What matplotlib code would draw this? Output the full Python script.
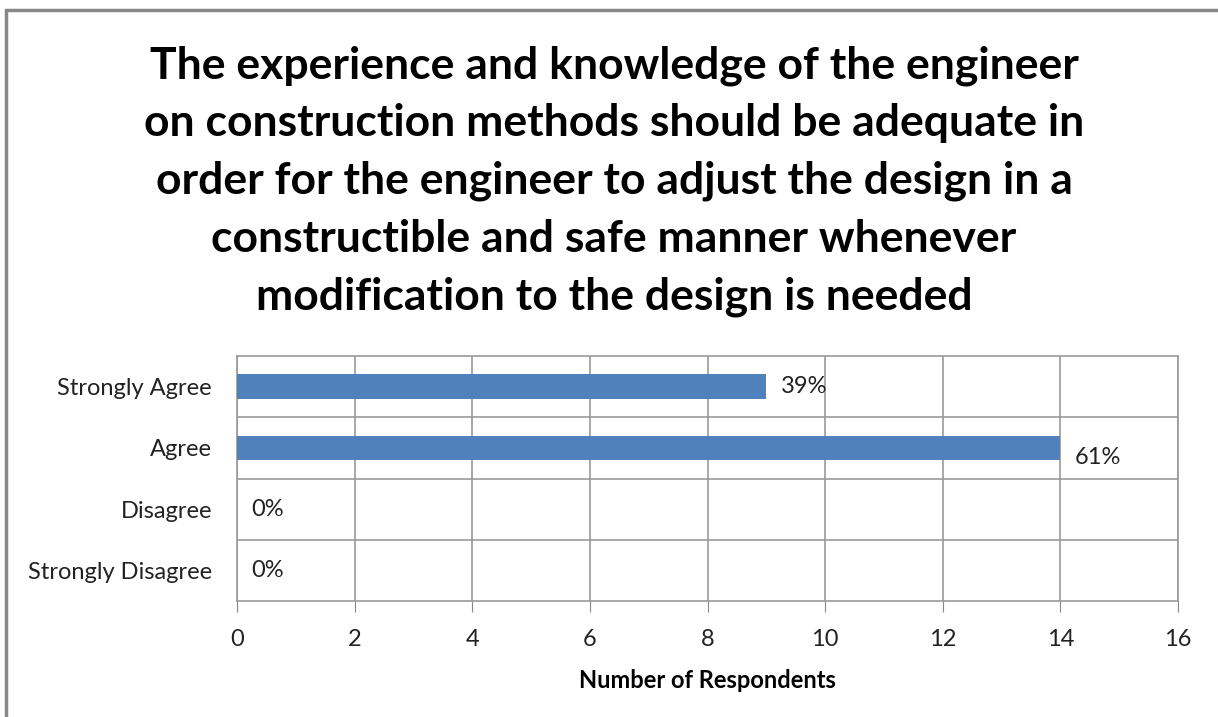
import matplotlib
matplotlib.use("Agg")
import matplotlib.pyplot as plt
from matplotlib.patches import Rectangle

categories = ["Strongly Agree", "Agree", "Disagree", "Strongly Disagree"]
values = [9, 14, 0, 0]
labels = ["39%", "61%", "0%", "0%"]
xticks = [0, 2, 4, 6, 8, 10, 12, 14, 16]
title = ("The experience and knowledge of the engineer\n"
         "on construction methods should be adequate in\n"
         "order for the engineer to adjust the design in a\n"
         "constructible and safe manner whenever\n"
         "modification to the design is needed")

plt.rcParams['font.family'] = ['Lato', 'DejaVu Sans']

W, H = 1218, 717
fig = plt.figure(figsize=(W / 100, H / 100), dpi=100)
# plot area in pixels: left 237, right 1178, top 356, bottom 601
ax = fig.add_axes([237 / W, 1 - 601 / H, (1178 - 237) / W, (601 - 356) / H])

ypos = list(range(len(categories)))
ax.barh(ypos, values, height=0.4, color="#4F81BD", zorder=3)
ax.set_ylim(len(categories) - 0.5, -0.5)
ax.set_xlim(0, 16)
ax.set_xticks(xticks)
ax.set_xticklabels([str(t) for t in xticks], fontsize=17, color="#222222")
ax.set_yticks(ypos)
ax.set_yticklabels(categories, fontsize=17, color="#222222")
ax.tick_params(axis='y', length=0, pad=18)
ax.tick_params(axis='x', length=8, color="#888888", pad=12, direction='out')

# gridlines
for t in xticks:
    ax.axvline(t, color="#999999", lw=1.2, zorder=1)
for b in [0.5, 1.5, 2.5]:
    ax.axhline(b, color="#999999", lw=1.2, zorder=1)
for s in ax.spines.values():
    s.set_color("#999999")
    s.set_linewidth(1.2)

offsets = [0.0, 0.15, 0.0, 0.0]
for y, v, lab, off in zip(ypos, values, labels, offsets):
    ax.text(v + 0.25, y + off, lab, va='center', ha='left', fontsize=17, color="#222222")

ax.set_xlabel("Number of Respondents", fontsize=17, fontweight='bold', labelpad=14)

fig.text(614 / W, 1 - 181 / H, title, ha='center', va='center', fontsize=32,
         fontweight='bold', linespacing=1.53)

fig.patches.append(Rectangle((6 / W, -0.05), 1.1, 1 - 10 / H + 0.05, transform=fig.transFigure,
                             fill=False, edgecolor="#888888", lw=2.5))

fig.savefig("out.png", dpi=100)
